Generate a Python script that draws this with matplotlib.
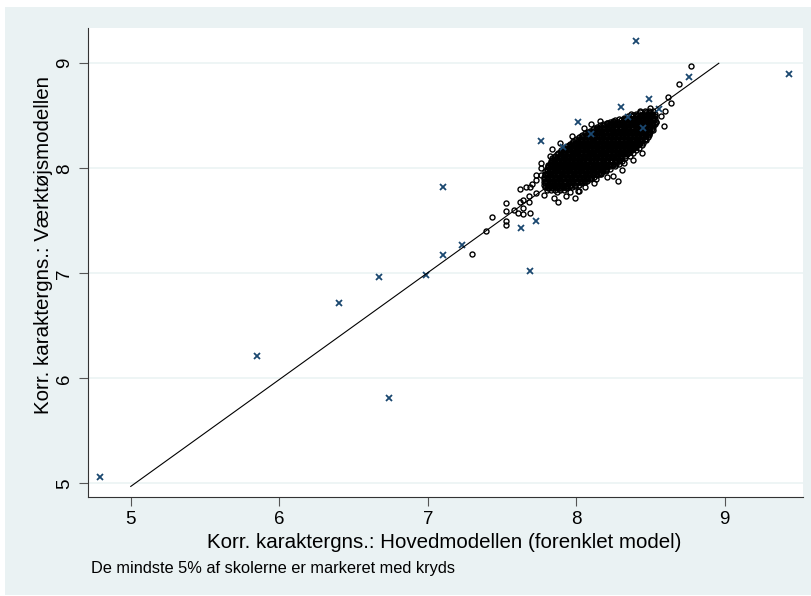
import matplotlib
matplotlib.use("Agg")
import numpy as np
import matplotlib.pyplot as plt
from matplotlib.patches import Rectangle

plt.rcParams['font.family'] = ['Liberation Sans', 'DejaVu Sans']

# schools in the dense middle of the distribution, one row per y level
core_rows = [
    (8.545, [8.46, 8.49, 8.52]),
    (8.52, [8.40, 8.42, 8.46, 8.48, 8.51, 8.53]),
    (8.495, [8.35, 8.37, 8.41, 8.43, 8.46, 8.49, 8.51, 8.53]),
    (8.47, [8.29, 8.32, 8.34, 8.38, 8.40, 8.43, 8.46, 8.48, 8.51, 8.53]),
    (8.445, [8.23, 8.26, 8.28, 8.31, 8.34, 8.37, 8.39, 8.42, 8.45, 8.47, 8.50, 8.54]),
    (8.42, [8.18, 8.21, 8.23, 8.26, 8.29, 8.32, 8.34, 8.37, 8.40, 8.43, 8.45, 8.48, 8.51, 8.53]),
    (8.395, [8.14, 8.16, 8.19, 8.22, 8.25, 8.27, 8.30, 8.33, 8.35, 8.38, 8.41, 8.44, 8.46, 8.49, 8.52]),
    (8.37, [8.11, 8.13, 8.16, 8.19, 8.21, 8.24, 8.27, 8.30, 8.32, 8.35, 8.38, 8.40, 8.43, 8.46, 8.48, 8.51]),
    (8.345, [8.07, 8.10, 8.12, 8.15, 8.18, 8.20, 8.23, 8.26, 8.29, 8.31, 8.34, 8.37, 8.39, 8.42, 8.45, 8.47, 8.50]),
    (8.32, [8.04, 8.07, 8.09, 8.12, 8.15, 8.17, 8.20, 8.23, 8.25, 8.28, 8.31, 8.33, 8.36, 8.39, 8.41, 8.44, 8.46, 8.49]),
    (8.295, [8.02, 8.04, 8.07, 8.10, 8.12, 8.15, 8.18, 8.21, 8.23, 8.26, 8.29, 8.31, 8.34, 8.36, 8.39, 8.42, 8.45, 8.48]),
    (8.27, [7.99, 8.02, 8.04, 8.07, 8.10, 8.13, 8.15, 8.18, 8.21, 8.23, 8.26, 8.28, 8.31, 8.34, 8.37, 8.39, 8.42, 8.44, 8.47]),
    (8.245, [7.97, 8.00, 8.02, 8.05, 8.08, 8.11, 8.13, 8.16, 8.18, 8.21, 8.24, 8.27, 8.29, 8.32, 8.35, 8.37, 8.40, 8.43, 8.45]),
    (8.22, [7.95, 7.97, 8.00, 8.03, 8.06, 8.08, 8.11, 8.14, 8.16, 8.19, 8.22, 8.24, 8.27, 8.30, 8.33, 8.35, 8.38, 8.41, 8.44]),
    (8.195, [7.92, 7.95, 7.98, 8.00, 8.03, 8.06, 8.09, 8.11, 8.14, 8.17, 8.19, 8.22, 8.25, 8.28, 8.30, 8.33, 8.36, 8.39, 8.42]),
    (8.17, [7.90, 7.93, 7.96, 7.98, 8.01, 8.04, 8.07, 8.09, 8.12, 8.15, 8.17, 8.20, 8.23, 8.26, 8.28, 8.31, 8.34, 8.37, 8.40]),
    (8.145, [7.88, 7.91, 7.93, 7.96, 7.99, 8.02, 8.04, 8.07, 8.10, 8.13, 8.15, 8.18, 8.21, 8.23, 8.26, 8.29, 8.32, 8.35, 8.38]),
    (8.12, [7.86, 7.89, 7.91, 7.94, 7.97, 8.00, 8.02, 8.05, 8.08, 8.10, 8.13, 8.16, 8.19, 8.21, 8.24, 8.27, 8.30, 8.33, 8.36]),
    (8.095, [7.84, 7.87, 7.89, 7.92, 7.95, 7.98, 8.00, 8.03, 8.06, 8.08, 8.11, 8.14, 8.17, 8.19, 8.22, 8.25, 8.28, 8.30, 8.33]),
    (8.07, [7.83, 7.85, 7.88, 7.91, 7.93, 7.96, 7.99, 8.01, 8.04, 8.07, 8.10, 8.12, 8.15, 8.18, 8.20, 8.23, 8.26, 8.29, 8.31]),
    (8.045, [7.82, 7.84, 7.87, 7.90, 7.92, 7.95, 7.98, 8.00, 8.03, 8.06, 8.09, 8.11, 8.14, 8.17, 8.19, 8.22, 8.25, 8.27, 8.29]),
    (8.02, [7.81, 7.83, 7.86, 7.89, 7.91, 7.94, 7.97, 7.99, 8.02, 8.05, 8.07, 8.10, 8.13, 8.15, 8.18, 8.21, 8.23, 8.26]),
    (7.995, [7.80, 7.82, 7.85, 7.88, 7.90, 7.93, 7.96, 7.98, 8.01, 8.04, 8.06, 8.09, 8.12, 8.14, 8.17, 8.20, 8.23]),
    (7.97, [7.79, 7.82, 7.84, 7.87, 7.90, 7.92, 7.95, 7.98, 8.00, 8.03, 8.06, 8.08, 8.11, 8.14, 8.16, 8.18, 8.20]),
    (7.945, [7.79, 7.81, 7.84, 7.87, 7.89, 7.92, 7.95, 7.97, 8.00, 8.03, 8.05, 8.08, 8.11, 8.13, 8.16]),
    (7.92, [7.78, 7.81, 7.83, 7.86, 7.89, 7.91, 7.94, 7.97, 7.99, 8.02, 8.05, 8.07, 8.10, 8.12]),
    (7.895, [7.78, 7.80, 7.83, 7.86, 7.88, 7.91, 7.94, 7.96, 7.99, 8.02, 8.04, 8.07, 8.09]),
    (7.87, [7.78, 7.80, 7.83, 7.85, 7.88, 7.91, 7.93, 7.96, 7.99, 8.01, 8.04, 8.06]),
    (7.845, [7.78, 7.81, 7.83, 7.86, 7.88, 7.91, 7.94, 7.96, 7.99, 8.02]),
    (7.82, [7.79, 7.81, 7.84, 7.87, 7.89, 7.92, 7.94, 7.97]),
    (7.795, [7.80, 7.83, 7.86, 7.89, 7.92]),
]

# more schools of the middle, sitting between the rows above
core_rows_mid = [
    (8.5325, [8.43, 8.47, 8.50]),
    (8.5075, [8.38, 8.41, 8.44, 8.47, 8.50, 8.52]),
    (8.4825, [8.32, 8.36, 8.39, 8.42, 8.45, 8.47, 8.50, 8.52]),
    (8.4575, [8.26, 8.30, 8.33, 8.36, 8.39, 8.41, 8.44, 8.47, 8.49, 8.52]),
    (8.4325, [8.21, 8.24, 8.27, 8.30, 8.33, 8.35, 8.38, 8.41, 8.44, 8.46, 8.49, 8.52]),
    (8.4075, [8.16, 8.19, 8.22, 8.25, 8.28, 8.31, 8.33, 8.36, 8.39, 8.42, 8.44, 8.47, 8.50, 8.52]),
    (8.3825, [8.12, 8.15, 8.18, 8.20, 8.23, 8.26, 8.29, 8.31, 8.34, 8.37, 8.39, 8.42, 8.45, 8.47, 8.50]),
    (8.3575, [8.09, 8.12, 8.14, 8.17, 8.20, 8.22, 8.25, 8.28, 8.31, 8.33, 8.36, 8.39, 8.41, 8.44, 8.47, 8.49]),
    (8.3325, [8.06, 8.08, 8.11, 8.14, 8.16, 8.19, 8.22, 8.24, 8.27, 8.30, 8.32, 8.35, 8.38, 8.40, 8.43, 8.46, 8.48]),
    (8.3075, [8.03, 8.06, 8.08, 8.11, 8.14, 8.16, 8.19, 8.22, 8.24, 8.27, 8.30, 8.32, 8.35, 8.38, 8.40, 8.43, 8.45, 8.47]),
    (8.2825, [8.00, 8.03, 8.06, 8.08, 8.11, 8.14, 8.17, 8.19, 8.22, 8.25, 8.27, 8.30, 8.33, 8.35, 8.38, 8.41, 8.43, 8.46]),
    (8.2575, [7.98, 8.01, 8.03, 8.06, 8.09, 8.12, 8.14, 8.17, 8.20, 8.22, 8.25, 8.28, 8.30, 8.33, 8.36, 8.38, 8.41, 8.44]),
    (8.2325, [7.96, 7.99, 8.01, 8.04, 8.07, 8.09, 8.12, 8.15, 8.17, 8.20, 8.23, 8.25, 8.28, 8.31, 8.34, 8.36, 8.39, 8.42]),
    (8.2075, [7.94, 7.96, 7.99, 8.02, 8.05, 8.07, 8.10, 8.13, 8.15, 8.18, 8.21, 8.23, 8.26, 8.29, 8.32, 8.34, 8.37, 8.40]),
    (8.1825, [7.91, 7.94, 7.97, 7.99, 8.02, 8.05, 8.08, 8.10, 8.13, 8.16, 8.18, 8.21, 8.24, 8.27, 8.29, 8.32, 8.35, 8.38]),
    (8.1575, [7.89, 7.92, 7.95, 7.97, 8.00, 8.03, 8.06, 8.08, 8.11, 8.14, 8.16, 8.19, 8.22, 8.25, 8.27, 8.30, 8.33, 8.36]),
    (8.1325, [7.87, 7.90, 7.92, 7.95, 7.98, 8.01, 8.03, 8.06, 8.09, 8.12, 8.14, 8.17, 8.20, 8.22, 8.25, 8.28, 8.31, 8.34]),
    (8.1075, [7.85, 7.88, 7.90, 7.93, 7.96, 7.99, 8.01, 8.04, 8.07, 8.09, 8.12, 8.15, 8.18, 8.20, 8.23, 8.26, 8.29, 8.31]),
    (8.0825, [7.84, 7.86, 7.88, 7.91, 7.94, 7.97, 7.99, 8.02, 8.05, 8.07, 8.10, 8.13, 8.16, 8.18, 8.21, 8.24, 8.27, 8.29]),
    (8.0575, [7.83, 7.85, 7.87, 7.90, 7.92, 7.95, 7.97, 8.00, 8.03, 8.05, 8.08, 8.11, 8.13, 8.16, 8.19, 8.21, 8.24, 8.27]),
    (8.0325, [7.82, 7.84, 7.86, 7.88, 7.91, 7.93, 7.96, 7.98, 8.01, 8.04, 8.06, 8.09, 8.12, 8.14, 8.17, 8.20, 8.22, 8.25]),
    (8.0075, [7.81, 7.83, 7.85, 7.87, 7.90, 7.92, 7.95, 7.97, 8.00, 8.03, 8.05, 8.08, 8.11, 8.13, 8.16, 8.19, 8.21]),
    (7.9825, [7.80, 7.83, 7.86, 7.89, 7.91, 7.94, 7.97, 7.99, 8.02, 8.05, 8.07, 8.10, 8.13, 8.15, 8.18, 8.20]),
    (7.9575, [7.80, 7.83, 7.85, 7.88, 7.91, 7.93, 7.96, 7.99, 8.01, 8.04, 8.07, 8.09, 8.12, 8.15, 8.17]),
    (7.9325, [7.79, 7.82, 7.85, 7.88, 7.90, 7.93, 7.96, 7.98, 8.01, 8.04, 8.06, 8.09, 8.11, 8.14]),
    (7.9075, [7.79, 7.82, 7.84, 7.87, 7.90, 7.92, 7.95, 7.98, 8.00, 8.03, 8.06, 8.08, 8.10]),
    (7.8825, [7.79, 7.82, 7.84, 7.87, 7.89, 7.92, 7.95, 7.97, 8.00, 8.03, 8.05, 8.07]),
    (7.8575, [7.79, 7.82, 7.84, 7.87, 7.89, 7.92, 7.95, 7.97, 8.00, 8.03]),
    (7.8325, [7.80, 7.82, 7.85, 7.88, 7.90, 7.93, 7.96, 7.99]),
    (7.8075, [7.81, 7.84, 7.87, 7.90, 7.93]),
]

# the more scattered schools around the middle
edge_x = [7.30, 7.39, 7.43, 7.53, 7.53, 7.53, 7.53, 7.58, 7.61, 7.64, 7.69, 7.64,
          7.62, 7.64, 7.68, 7.68, 7.62, 7.66, 7.69, 7.70, 7.73, 7.78, 7.73, 7.76,
          7.73, 7.76, 7.81, 7.82, 7.88, 8.01, 7.87, 8.77, 8.69, 8.62, 8.64, 8.59,
          8.54, 8.43, 8.47, 8.37, 8.33, 8.41, 8.49, 8.40, 8.40, 8.32, 8.31, 8.25,
          8.21, 8.17, 8.13, 8.06, 8.02, 7.96, 8.16, 8.21, 8.25, 8.03, 8.00, 7.92,
          8.50, 8.57, 8.60, 8.46, 8.52, 8.44, 8.38, 8.28, 8.12, 7.99, 7.93, 7.85,
          7.76, 7.84, 7.89, 7.97, 8.05, 8.10]
edge_y = [7.18, 7.40, 7.54, 7.46, 7.50, 7.59, 7.67, 7.60, 7.57, 7.56, 7.57, 7.62,
          7.68, 7.70, 7.68, 7.74, 7.80, 7.82, 7.82, 7.85, 7.76, 7.75, 7.89, 7.94,
          7.94, 8.00, 8.03, 8.12, 7.68, 7.78, 7.77, 8.97, 8.80, 8.68, 8.62, 8.40,
          8.44, 8.55, 8.51, 8.52, 8.47, 8.47, 8.33, 8.25, 8.20, 8.05, 7.98, 7.93,
          7.92, 7.95, 7.90, 7.82, 7.78, 7.77, 8.45, 8.43, 8.45, 8.27, 8.20, 8.16,
          8.57, 8.50, 8.55, 8.28, 8.36, 8.15, 8.08, 7.88, 7.86, 7.72, 7.74, 7.72,
          8.05, 8.18, 8.24, 8.31, 8.38, 8.42]

# smallest 5% of schools
small_x = [4.795, 5.85, 6.40, 6.67, 6.74, 6.99, 7.10, 7.10, 7.23, 7.63, 7.69, 7.73,
           7.76, 7.91, 8.01, 8.10, 8.30, 8.35, 8.45, 8.49, 8.56, 8.76, 8.40, 9.43]
small_y = [5.06, 6.21, 6.72, 6.96, 5.81, 6.98, 7.17, 7.82, 7.27, 7.43, 7.02, 7.50,
           8.26, 8.20, 8.44, 8.33, 8.58, 8.49, 8.38, 8.66, 8.56, 8.87, 9.21, 8.90]

fit_x = [5.0, 8.96]
fit_y = [4.97, 9.0]

ticks = [5, 6, 7, 8, 9]

core_x = [x for y, xs in core_rows + core_rows_mid for x in xs]
core_y = [y for y, xs in core_rows + core_rows_mid for x in xs]
big_x = np.array(core_x + edge_x)
big_y = np.array(core_y + edge_y)

W, H = 811, 596
fig = plt.figure(figsize=(W / 100, H / 100), dpi=100, facecolor='white')
fig.patches.append(Rectangle((5 / W, 1 / H), (W - 5) / W, (H - 8) / H,
                             transform=fig.transFigure, facecolor='#eaf2f3',
                             edgecolor='none', zorder=-10))

ax = fig.add_axes([87.7 / W, (H - 496.7) / H, (803 - 87.7) / W, 468.7 / H])
ax.set_facecolor('white')

ax.plot(big_x, big_y, linestyle='none', marker='o', markersize=3.6,
        markerfacecolor='none', markeredgecolor='black', markeredgewidth=1.0)
ax.plot(small_x, small_y, linestyle='none', marker='x', markersize=4.2,
        color='#1a476f', markeredgewidth=1.3)
ax.plot(fit_x, fit_y, color='black', linewidth=0.8)

ax.set_xlim(4.71, 9.527)
ax.set_ylim(4.872, 9.336)
ax.set_xticks(ticks)
ax.set_yticks(ticks)
ax.set_xticklabels([str(t) for t in ticks])
ax.set_yticklabels([str(t) for t in ticks], rotation=90, va='center')
ax.yaxis.grid(True, color='#eaf2f3', linewidth=1.1)
ax.set_axisbelow(True)

for side in ['top', 'right']:
    ax.spines[side].set_visible(False)
for side in ['left', 'bottom']:
    ax.spines[side].set_color('#333333')
    ax.spines[side].set_linewidth(0.8)
ax.tick_params(direction='out', length=6.3, width=0.8, color='#555555',
               labelsize=13.5, pad=4)

fig.text(444 / W, 1 - 542 / H, 'Korr. karaktergns.: Hovedmodellen (forenklet model)',
         ha='center', va='center', fontsize=14.8)
fig.text(44 / W, 1 - 245 / H, 'Korr. karaktergns.: Værktøjsmodellen',
         ha='center', va='center', rotation=90, fontsize=14.8)
fig.text(91 / W, 1 - 568 / H, 'De mindste 5% af skolerne er markeret med kryds',
         ha='left', va='center', fontsize=11.8)

fig.savefig('out.png', dpi=100, facecolor=fig.get_facecolor())
